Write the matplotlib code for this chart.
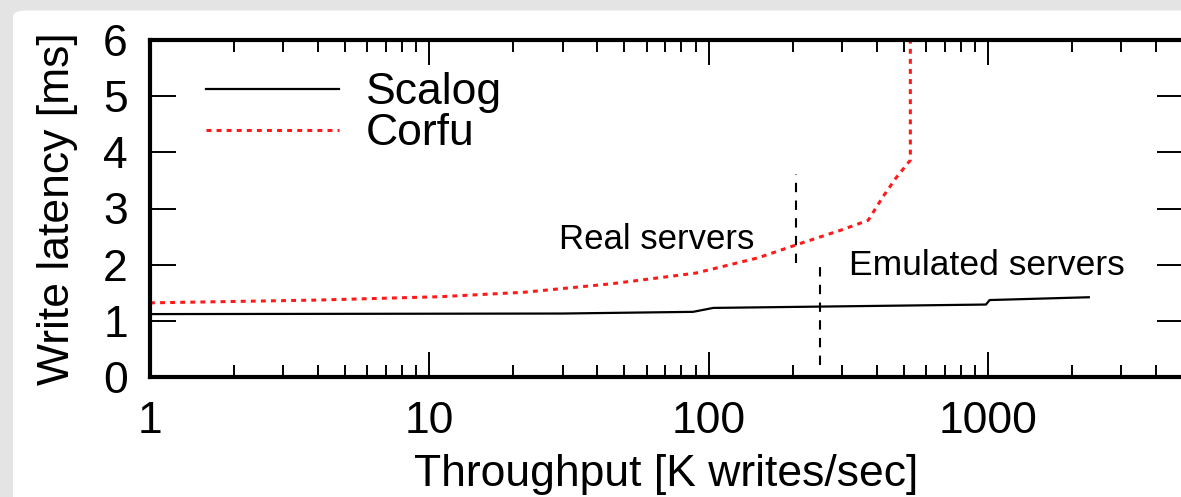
import numpy as np
import matplotlib
matplotlib.use("Agg")
from matplotlib import pyplot as plt
from matplotlib.patches import FancyBboxPatch

plt.rcParams['font.family'] = ['Liberation Sans', 'DejaVu Sans']

# throughput [K writes/sec] and latency [ms]
scalog_x = [1, 30, 88, 104, 985, 1015, 2300]
scalog_y = [1.12, 1.13, 1.16, 1.23, 1.29, 1.37, 1.42]

corfu_x = [1, 4, 11, 22, 45, 90, 150, 220, 300, 373, 420, 470, 528, 528]
corfu_y = [1.32, 1.37, 1.43, 1.51, 1.66, 1.85, 2.12, 2.40, 2.62, 2.79, 3.2, 3.55, 3.86, 6.2]

# boundary markers between real and emulated servers
real_split = (206, 2.03, 3.61)
emu_split = (251, 0.21, 1.96)

fig = plt.figure(figsize=(11.81, 4.97), dpi=100, facecolor="#e4e4e4")

# white card on grey background
card = FancyBboxPatch((13 / 1181, -0.1), 1.2, (497 - 8) / 497 + 0.1 - 0.005,
                      boxstyle="round,pad=0,rounding_size=0.012",
                      transform=fig.transFigure, facecolor="white",
                      edgecolor="none", zorder=0)
fig.patches.append(card)

ax = fig.add_axes([150 / 1181, 120 / 497, (1183 - 150) / 1181, 337 / 497])
ax.set_facecolor("none")
ax.set_zorder(2)

ax.plot(scalog_x, scalog_y, color="black", lw=1.6, label="Scalog")
ax.plot(corfu_x, corfu_y, color="#ff1a1a", lw=2.2, ls=(0, (1.6, 1.7)), label="Corfu")

ax.vlines(real_split[0], real_split[1], real_split[2], colors="black", lw=1.5, linestyles=(0, (4.5, 4)))
ax.vlines(emu_split[0], emu_split[1], emu_split[2], colors="black", lw=1.5, linestyles=(0, (4.5, 4)))

ax.text(65, 2.45, "Real servers", fontsize=25, ha="center", va="center")
ax.text(319, 1.98, "Emulated servers", fontsize=25.5, ha="left", va="center")

ax.set_xscale("log")
ax.set_xlim(1, 5000)
ax.set_ylim(0, 6)
ax.set_xticks([1, 10, 100, 1000])
ax.set_xticklabels(["1", "10", "100", "1000"])
ax.set_yticks(range(7))

for s in ax.spines.values():
    s.set_linewidth(3)

ax.tick_params(axis="both", which="both", direction="in", top=True, right=True, labelsize=32, width=1.4)
ax.tick_params(axis="x", which="major", length=18, pad=17)
ax.tick_params(axis="x", which="minor", length=8.5)
ax.tick_params(axis="y", which="major", length=19, pad=16)

ax.set_xlabel("Throughput [K writes/sec]", fontsize=32, labelpad=9)
ax.set_ylabel("Write latency [ms]", fontsize=32, labelpad=18)

ax.legend(loc="upper left", frameon=False, fontsize=32, handlelength=3.0,
          handletextpad=0.6, labelspacing=0.0, borderaxespad=0.3,
          bbox_to_anchor=(0.024, 0.996))

fig.savefig("out.png", dpi=100, facecolor=fig.get_facecolor())
